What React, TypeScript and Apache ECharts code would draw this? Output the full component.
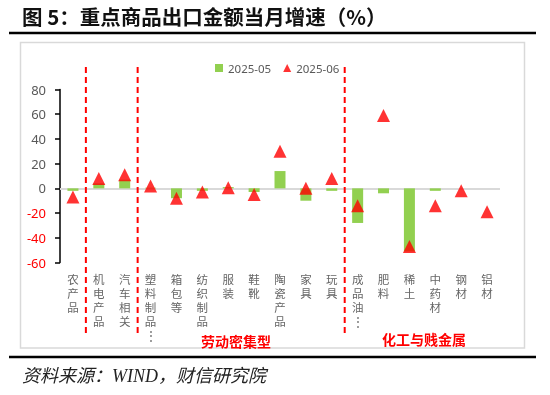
import React, { useEffect, useRef } from 'react';
import * as echarts from 'echarts';

const categories = ['农产品', '机电产品', '汽车相关', '塑料制品…', '箱包等', '纺织制品', '服装', '鞋靴', '陶瓷产品', '家具', '玩具', '成品油…', '肥料', '稀土', '中药材', '钢材', '铝材'];
const may2025 = [-2, 4, 7, 0.5, -8, -2, 1, -3, 14, -10, -2, -28, -4, -51, -2, 0, 0];
const jun2025 = [-7, 8, 11, 2, -8, -3, 0.5, -5, 30, 0, 8, -14, 59, -47, -14, -2, -19];
const seriesNames = ['2025-05', '2025-06'];
const yMin = -60;
const yMax = 80;
const yInterval = 20;
const breaksAfter = [0, 2, 10];
const groupLabels = ['劳动密集型', '化工与贱金属'];
const titleText = '图 5：重点商品出口金额当月增速（%）';
const sourceText = '资料来源：WIND，财信研究院';

export default function App() {
  const ref = useRef<HTMLDivElement>(null);
  useEffect(() => {
    const chart = echarts.init(ref.current!, null, { renderer: 'svg' });
    const cjk = '"Noto Sans CJK SC", "Noto Sans", sans-serif';
    chart.setOption({
      animation: false,
      grid: { left: 60, right: 50, top: 89.5, bottom: 132.5 },
      legend: {
        left: 215,
        top: 62,
        padding: 0,
        itemWidth: 8,
        itemHeight: 8,
        itemGap: 12,
        textStyle: { fontSize: 11.5, color: '#595959', fontFamily: 'Noto Sans' },
        data: [
          { name: seriesNames[0], icon: 'rect' },
          { name: seriesNames[1], icon: 'triangle' },
        ],
      },
      xAxis: {
        type: 'category',
        data: categories,
        axisLine: { show: false },
        axisTick: { show: false },
        axisLabel: {
          interval: 0,
          margin: 9,
          fontSize: 11.5,
          lineHeight: 14.2,
          color: '#666666',
          fontFamily: cjk,
          formatter: (v: string) => v.replace('…', '⋮').split('').join('\n'),
        },
      },
      yAxis: {
        type: 'value',
        min: yMin,
        max: yMax,
        interval: yInterval,
        splitLine: { show: false },
        axisLine: { show: true, lineStyle: { color: '#000000', width: 1.5 } },
        axisTick: { show: true, length: 5, lineStyle: { color: '#000000', width: 1.5 } },
        axisLabel: {
          margin: 14,
          fontSize: 13,
          fontFamily: 'Noto Sans',
          color: (v: any) => (Number(v) < 0 ? '#FF0000' : '#595959'),
        },
      },
      series: [
        {
          name: seriesNames[0],
          type: 'bar',
          data: may2025,
          barWidth: 11,
          itemStyle: { color: '#92D050' },
          z: 2,
          markLine: {
            silent: true,
            symbol: ['none', 'none'],
            label: { show: false },
            lineStyle: { color: '#D9D9D9', width: 2, type: 'solid' },
            data: [{ yAxis: 0 }],
            z: 1,
          },
        },
        {
          name: seriesNames[1],
          type: 'scatter',
          data: jun2025,
          symbol: 'triangle',
          symbolSize: 13,
          itemStyle: { color: '#FF0000' },
          z: 3,
        },
      ],
    });

    const px = (i: number) => chart.convertToPixel({ xAxisIndex: 0 }, categories[i]) as number;
    const dashed = breaksAfter.map((i) => {
      const x = (px(i) + px(i + 1)) / 2;
      return {
        type: 'line',
        z: 10,
        shape: { x1: x, y1: 67, x2: x, y2: 334 },
        style: { stroke: '#FF0000', lineWidth: 2, lineDash: [6, 4] },
      };
    });

    chart.setOption({
      graphic: [
        {
          type: 'rect',
          z: -10,
          shape: { x: 20.5, y: 42.5, width: 504, height: 305.5 },
          style: { fill: 'none', stroke: '#D9D9D9', lineWidth: 1.5 },
        },
        {
          type: 'text',
          x: 22,
          y: 16,
          style: {
            text: titleText,
            font: `bold 20.5px ${cjk}`,
            fill: '#111111',
            verticalAlign: 'middle',
          },
        },
        {
          type: 'line',
          shape: { x1: 9, y1: 33, x2: 536, y2: 33 },
          style: { stroke: '#000000', lineWidth: 2.5 },
        },
        {
          type: 'text',
          x: 236,
          y: 341,
          style: {
            text: groupLabels[0],
            font: `bold 14px ${cjk}`,
            fill: '#FF0000',
            align: 'center',
            verticalAlign: 'middle',
          },
        },
        {
          type: 'text',
          x: 424,
          y: 339,
          style: {
            text: groupLabels[1],
            font: `bold 14px ${cjk}`,
            fill: '#FF0000',
            align: 'center',
            verticalAlign: 'middle',
          },
        },
        {
          type: 'line',
          shape: { x1: 9, y1: 357, x2: 536, y2: 357 },
          style: { stroke: '#000000', lineWidth: 2.5 },
        },
        {
          type: 'text',
          x: 22,
          y: 376,
          style: {
            text: sourceText,
            font: `italic 18px "Liberation Serif", ${cjk}`,
            fill: '#222222',
            verticalAlign: 'middle',
          },
        },
        ...dashed,
      ],
    });
    return () => chart.dispose();
  }, []);
  return <div ref={ref} style={{ position: 'fixed', left: 0, top: 0, width: 550, height: 395 }} />;
}
